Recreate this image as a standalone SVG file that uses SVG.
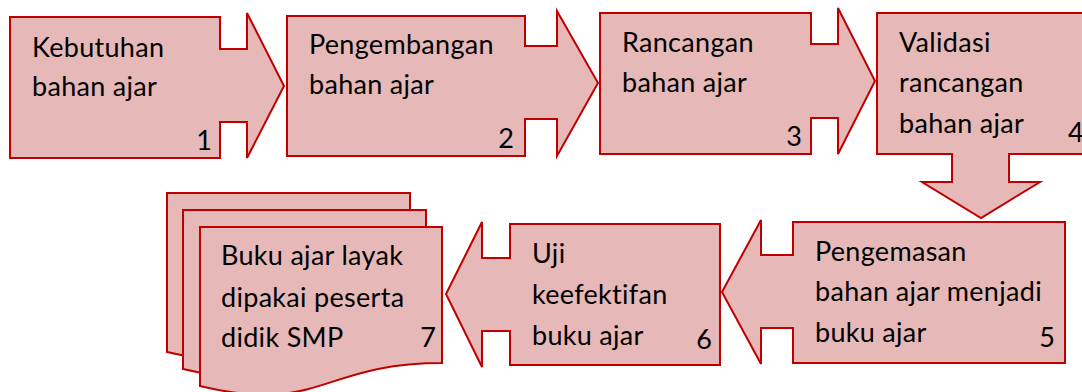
<svg xmlns="http://www.w3.org/2000/svg" width="1082" height="392" viewBox="0 0 1082 392">
  <style>
    .shape { fill: #E6B9B8; stroke: #C00000; stroke-width: 2; stroke-linejoin: miter; }
    .lbl { font-family: Lato, "Liberation Sans", sans-serif; font-size: 27px; letter-spacing: 0.3px; fill: #000000; }
    .num { font-family: Lato, "Liberation Sans", sans-serif; font-size: 27px; fill: #000000; text-anchor: end; }
  </style>
  <rect width="1082" height="392" fill="#FFFFFF"/>
  <g id="connectors"></g>
  <g id="node1">
    <polygon class="shape" points="10,17 220,17 220,49 247,49 247,13 284,86 247,158 247,122 220,122 220,158 10,158"/>
    <text class="lbl" x="32" y="57">Kebutuhan</text>
    <text class="lbl" x="32" y="96">bahan ajar</text>
    <text class="num" x="212" y="150">1</text>
  </g>
  <g id="node2">
    <polygon class="shape" points="287,16 525,16 525,46 557,46 557,11 598,83 557,156 557,119 525,119 525,156 287,156"/>
    <text class="lbl" x="309" y="54">Pengembangan</text>
    <text class="lbl" x="309" y="94">bahan ajar</text>
    <text class="num" x="514" y="148">2</text>
  </g>
  <g id="node3">
    <polygon class="shape" points="600,13 811,13 811,44 838,44 838,8 875,81 838,154 838,118 811,118 811,154 600,154"/>
    <text class="lbl" x="622" y="52">Rancangan</text>
    <text class="lbl" x="622" y="92">bahan ajar</text>
    <text class="num" x="802" y="146">3</text>
  </g>
  <g id="node4">
    <polygon class="shape" points="877,13 1092,13 1092,154 1009,154 1009,182 1040,182 981,218 922,182 952,182 952,154 877,154"/>
    <text class="lbl" x="899" y="52">Validasi</text>
    <text class="lbl" x="899" y="92">rancangan</text>
    <text class="lbl" x="899" y="133">bahan ajar</text>
    <text class="lbl" x="1068" y="142">4</text>
  </g>
  <g id="node5">
    <polygon class="shape" points="1065,222 1065,363 793,363 793,328 761,328 761,364 722,292 761,220 761,255 793,255 793,222"/>
    <text class="lbl" x="815" y="261">Pengemasan</text>
    <text class="lbl" x="815" y="301">bahan ajar menjadi</text>
    <text class="lbl" x="815" y="342">buku ajar</text>
    <text class="num" x="1055" y="347">5</text>
  </g>
  <g id="node6">
    <polygon class="shape" points="720,224 720,365 510,365 510,331 482,331 482,367 446,294 482,222 482,258 510,258 510,224"/>
    <text class="lbl" x="532" y="263">Uji</text>
    <text class="lbl" x="532" y="304">keefektifan</text>
    <text class="lbl" x="532" y="345">buku ajar</text>
    <text class="num" x="712" y="349">6</text>
  </g>
  <g id="node7">
    <path class="shape" d="M167,193 H410 V329 C288.5,329 288.5,381 167,352 Z"/>
    <path class="shape" d="M183,210 H426 V346 C304.5,346 304.5,398 183,369 Z"/>
    <path class="shape" d="M200,227 H442 V363 C321,363 321,415 200,386 Z"/>
    <text class="lbl" x="221" y="265">Buku ajar layak</text>
    <text class="lbl" x="221" y="307">dipakai peserta</text>
    <text class="lbl" x="221" y="347">didik SMP</text>
    <text class="num" x="436" y="347">7</text>
  </g>
</svg>
